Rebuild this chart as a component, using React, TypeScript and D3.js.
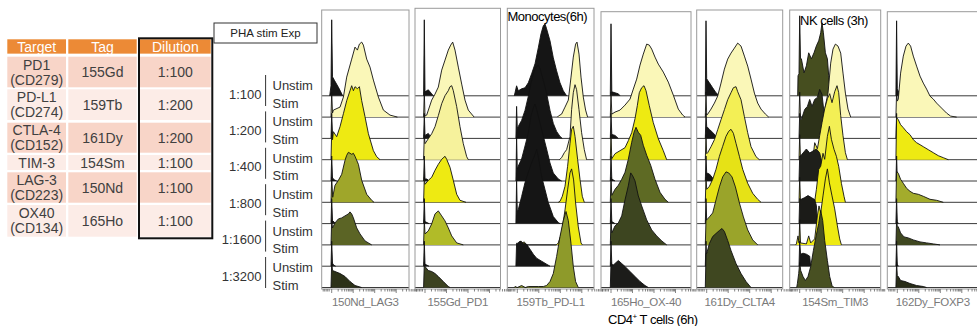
import React from "react";
import * as d3 from "d3";

type Pt = [number, number];

// ---------- table data ----------
const tableHeader = ["Target", "Tag", "Dilution"];
const targets: string[][] = [["PD1", "(CD279)"], ["PD-L1", "(CD274)"], ["CTLA-4", "(CD152)"], ["TIM-3"], ["LAG-3", "(CD223)"], ["OX40", "(CD134)"]];
const tags = ["155Gd", "159Tb", "161Dy", "154Sm", "150Nd", "165Ho"];
const dilutions = ["1:100", "1:200", "1:200", "1:100", "1:100", "1:100"];

// ---------- row labels ----------
const dilutionSeries = ["1:100", "1:200", "1:400", "1:800", "1:1600", "1:3200"];
const conditions = ["Unstim", "Stim"];

// ---------- panels ----------
const channelNames = ["150Nd_LAG3", "155Gd_PD1", "159Tb_PD-L1", "165Ho_OX-40", "161Dy_CLTA4", "154Sm_TIM3", "162Dy_FOXP3"];

const K = "#151515";
const PALE = "#FAF7B8";
const MED = "#F3EF55";
const YEL = "#EEEA12";

const lag3Colors = [K, PALE, K, YEL, K, "#9FA62A", K, "#5B6425", K, "#2C3118"];
const pd1Colors = [K, PALE, K, "#F6F29C", K, YEL, K, "#B1BB28", K, "#3C4220"];
const pdl1Colors = [K, PALE, K, PALE, K, YEL, K, YEL, K, "#8E9A2A"];
const ox40Colors = [K, PALE, K, YEL, K, "#5E6A24", K, "#3D4520", K, "#1C1C1A"];
const ctla4Colors = [K, PALE, K, MED, K, "#E6E216", K, "#9AA42A", K, "#3F4720"];
const tim3Colors = ["#464E1F", PALE, "#2D3219", MED, "#1E1F1A", YEL, "#1B1B18", YEL, K, "#485022"];
const foxp3Colors = [K, PALE, K, YEL, K, "#A3AC2C", K, "#3F4720", K, "#282C17"];

// histograms: [channel, count] pairs, 10 stacked traces per panel (top to bottom)
const lag3Hists: Pt[][] = [
  [[8, 0], [9.3, 10], [10, 76], [10.8, 19], [13, 15], [17, 8], [21, 0]],
  [[9.3, 0], [10, 25], [10.8, 4], [11.7, 7], [18.3, 10], [21.7, 20], [25, 40], [30, 58], [33.3, 70], [35.7, 67], [37.7, 73], [40, 75], [41.7, 72], [45, 58], [48.3, 50], [51.7, 37], [56.7, 20], [61.7, 7], [68.3, 2], [75.7, 0]],
  [[9.3, 0], [10, 25], [10.8, 4], [13, 2], [16, 0]],
  [[9.3, 0], [10, 28], [10.8, 20], [11.7, 28], [15, 23], [18.3, 33], [21.7, 46], [25, 59], [28.3, 69], [30, 74], [31.7, 69], [33.3, 73], [35.7, 71], [37.7, 73], [40, 59], [43.3, 43], [46.7, 26], [51.7, 9], [55, 3], [58.3, 0]],
  [[9.3, 0], [10, 25], [10.8, 3], [13, 1], [15, 0]],
  [[9.3, 0], [10, 25], [11, 5], [13.3, 17], [16.7, 22], [20, 28], [23.3, 42], [25, 47], [26.7, 50], [30, 48], [31.7, 49], [33.3, 46], [36.7, 38], [40, 22], [45, 8], [50, 2], [52.3, 0]],
  [[9.3, 0], [10, 25], [10.8, 3], [13, 1], [15, 0]],
  [[9.3, 0], [10, 25], [10.8, 17], [13.3, 22], [16.7, 26], [20, 27], [23.3, 29], [26.7, 31], [28.3, 33], [30, 31], [31.7, 27], [35, 17], [38.3, 11], [43.3, 4], [48.3, 1], [50, 0]],
  [[9.3, 0], [10, 25], [10.8, 3], [12, 1], [14, 0]],
  [[9.3, 0], [10, 25], [10.8, 17], [13.3, 16], [18.3, 14], [23.3, 11], [28.3, 6], [33.3, 2], [40, 0]],
];

const pd1Hists: Pt[][] = [
  [[8.6, 0], [9.3, 76], [10, 4], [13.3, 6], [16.7, 2], [18.3, 0]],
  [[8.6, 0], [9.3, 25], [10, 1], [11.7, 2], [16.7, 17], [20, 23], [23.3, 30], [26.7, 47], [30, 57], [33.3, 67], [35.7, 72], [37.7, 75], [40, 67], [43.3, 50], [46.7, 33], [50, 17], [53.3, 7], [58.3, 1], [59, 0]],
  [[8.6, 0], [9.3, 25], [10, 3], [13.3, 5], [16.7, 0]],
  [[8.6, 0], [9.3, 25], [10, 16], [13.3, 21], [16.7, 26], [20, 33], [23.3, 44], [26.7, 56], [30, 64], [33.3, 69], [35, 73], [36.7, 74], [38.3, 69], [41.7, 53], [45, 33], [48.3, 16], [51.7, 3], [53.3, 0]],
  [[8.6, 0], [9.3, 25], [10, 2], [12, 2], [14, 0]],
  [[8.6, 0], [9.3, 25], [10, 18], [13.3, 22], [16.7, 25], [20, 32], [23.3, 38], [26.7, 43], [30, 46], [31.7, 43], [35, 35], [38.3, 22], [41.7, 8], [45, 2], [51, 0]],
  [[8.6, 0], [9.3, 25], [10, 2], [12, 1], [14, 0]],
  [[8.6, 0], [9.3, 25], [10, 11], [13.3, 14], [16.7, 21], [20, 31], [23.3, 34], [26.7, 29], [30, 24], [33.3, 17], [36.7, 9], [41.7, 2], [48.3, 0]],
  [[8.6, 0], [9.3, 25], [10, 2], [12, 1], [14, 0]],
  [[8.6, 0], [9.3, 25], [10, 21], [13.3, 17], [16.7, 16], [20, 14], [23.3, 11], [28.3, 6], [33.3, 1], [35, 0]],
];

const pdl1Hists: Pt[][] = [
  [[7, 0], [7.7, 3], [9.3, 10], [11, 5], [14.3, 7], [17.7, 8], [21, 13], [24.3, 22], [27.7, 32], [31, 48], [33.7, 62], [36, 70], [37.7, 72], [39.3, 67], [42.7, 55], [46, 38], [49.3, 25], [52.7, 13], [56, 5], [59.3, 0]],
  [[50, 0], [51, 1], [54.3, 3], [57.7, 10], [61, 17], [63.7, 40], [66, 60], [68.3, 73], [69.7, 75], [71.7, 63], [73.7, 40], [76, 20], [78.3, 7], [80.3, 0]],
  [[8.6, 0], [9.3, 32], [10, 10], [11, 12], [14.3, 18], [17.7, 28], [21, 42], [24.3, 58], [27, 68], [29.3, 72], [31, 73], [32.7, 70], [36, 58], [39.3, 45], [42.7, 28], [46, 15], [49.3, 7], [52.7, 2], [55, 0]],
  [[52, 0], [54.3, 2], [57, 7], [59.3, 10], [62.7, 23], [64.3, 50], [66, 67], [67.7, 75], [69.3, 70], [71.7, 50], [74.3, 27], [77, 10], [79.3, 0]],
  [[8.6, 0], [9.3, 44], [10, 12], [11, 15], [14.3, 22], [17.7, 35], [21, 48], [23.7, 65], [26, 73], [27.7, 77], [29.3, 72], [32.7, 58], [36, 45], [39.3, 32], [42.7, 18], [46, 8], [51, 2], [54.3, 0]],
  [[51, 0], [52.7, 1], [55, 6], [57.7, 16], [60.3, 36], [62.7, 59], [64.3, 73], [66, 76], [67.7, 66], [70.3, 43], [72.7, 23], [75, 6], [77, 0]],
  [[8.6, 0], [9.3, 44], [10, 12], [11, 14], [14.3, 27], [17.7, 41], [21, 51], [24.3, 61], [27, 67], [29.3, 74], [31, 67], [34.3, 47], [37.7, 34], [41, 21], [46, 7], [51, 1], [52.7, 0]],
  [[12, 0], [13.5, 4], [15, 2], [17, 3], [19, 0], [49, 0], [51, 2], [54.3, 12], [57.7, 35], [60.3, 55], [62.7, 72], [64.3, 76], [66.3, 65], [68.3, 42], [71, 18], [73.7, 2], [75, 0]],
  [[8.6, 0], [9.3, 23], [10.3, 23], [12.7, 25], [16, 23], [19.3, 22], [22.7, 17], [26, 12], [29.3, 8], [34.3, 5], [39.3, 2], [42.7, 0]],
  [[7, 0], [7.7, 1], [10, 0], [14.3, 2], [18, 0], [21, 1], [31, 1], [36, 1], [39.3, 2], [42.7, 6], [46, 14], [49.3, 31], [52.7, 51], [56, 67], [58.7, 76], [61, 67], [63.7, 44], [66, 21], [68.3, 6], [71, 0]],
];

const ox40Hists: Pt[][] = [
  [[9.3, 0], [10, 72], [10.8, 4], [14, 3], [17.3, 2], [19, 0]],
  [[9.3, 0], [10, 25], [10.8, 3], [14, 5], [19, 7], [24, 12], [29, 18], [32.3, 28], [35.7, 38], [39, 52], [42.3, 63], [45.7, 73], [48.3, 72], [50.7, 68], [54, 60], [57.3, 53], [62.3, 45], [67.3, 35], [72.3, 22], [77.3, 8], [81.7, 2], [84, 0]],
  [[9.3, 0], [10, 25], [10.8, 4], [14, 3], [17.3, 0]],
  [[9.3, 0], [10, 25], [10.8, 1], [14, 6], [19, 9], [24, 12], [27.3, 19], [30.7, 27], [34, 41], [36.3, 54], [38.3, 67], [40.7, 72], [43, 74], [45, 69], [48.3, 54], [52.3, 37], [57.3, 21], [62.3, 9], [65.7, 0]],
  [[9.3, 0], [10, 25], [10.8, 2], [14, 0]],
  [[9.3, 0], [10, 25], [10.8, 7], [14, 13], [17.3, 17], [20.7, 23], [24, 30], [27.3, 43], [30.7, 60], [33, 70], [35, 75], [37.3, 70], [39.7, 67], [42.3, 57], [45.7, 47], [49.7, 37], [54, 23], [59, 10], [64, 3], [67.3, 0]],
  [[9.3, 0], [10, 25], [10.8, 2], [14, 0]],
  [[9.3, 0], [10, 25], [10.8, 12], [14, 19], [17.3, 22], [20.7, 29], [24, 45], [27.3, 59], [29.7, 72], [31.7, 69], [34, 64], [37.3, 49], [40.7, 39], [45.7, 25], [50.7, 15], [55.7, 9], [60.7, 4], [65.7, 0]],
  [[9.3, 0], [10, 25], [10.8, 2], [14, 0]],
  [[9.3, 0], [10, 25], [10.8, 21], [14, 24], [17.3, 27], [20.7, 24], [24, 21], [29, 16], [34, 11], [39, 6], [44, 2], [47.3, 0]],
];

const ctla4Hists: Pt[][] = [
  [[8.6, 0], [9.3, 75], [10, 17], [12.7, 13], [16, 8], [19.3, 3], [22.7, 0]],
  [[8.6, 0], [9.3, 25], [10, 2], [11, 3], [14.3, 8], [17.7, 14], [21, 21], [24.3, 34], [27.7, 48], [31, 58], [34.3, 64], [37.7, 69], [41, 74], [44.3, 71], [47.7, 61], [51, 51], [54.3, 38], [57.7, 24], [61, 14], [64.3, 8], [68.7, 3], [72, 0]],
  [[8.6, 0], [9.3, 25], [10, 12], [12.7, 9], [16, 6], [19.3, 2], [21, 0]],
  [[8.6, 0], [9.3, 25], [10, 6], [11, 7], [14.3, 13], [17.7, 20], [21, 30], [24.3, 40], [27.7, 50], [31, 60], [34.3, 67], [36.7, 72], [39.3, 73], [41, 68], [44.3, 60], [47.7, 43], [51, 27], [54.3, 13], [59.3, 3], [62.7, 0]],
  [[8.6, 0], [9.3, 25], [10, 8], [12.7, 7], [16, 3], [17.7, 0]],
  [[8.6, 0], [9.3, 25], [10, 13], [12.7, 16], [16, 23], [19.3, 33], [22.7, 46], [26, 56], [29.3, 66], [32, 71], [34.3, 73], [36.7, 69], [39.3, 59], [42.7, 46], [46, 33], [51, 19], [56, 9], [61, 3], [64.3, 0]],
  [[8.6, 0], [9.3, 25], [10, 3], [12, 0]],
  [[8.6, 0], [9.3, 25], [10, 25], [12.7, 28], [16, 32], [19.3, 45], [22.7, 58], [26, 68], [29.3, 73], [32, 72], [35.3, 68], [38.7, 58], [42.7, 42], [46.7, 28], [51, 15], [56, 5], [61, 0]],
  [[8.6, 0], [9.3, 25], [10, 3], [12, 0]],
  [[8.6, 0], [9.3, 34], [10, 34], [12.7, 44], [16, 51], [19.3, 54], [22.7, 57], [25.3, 59], [27.7, 56], [31, 47], [34.3, 37], [39.3, 24], [44.3, 14], [49.3, 6], [54.3, 0]],
];

const tim3Hists: Pt[][] = [
  [[8, 0], [8.3, 20], [9.3, 22], [10, 80], [10.8, 37], [11.7, 37], [14.3, 23], [16.7, 30], [19, 43], [21.7, 37], [24.3, 43], [26.7, 50], [29, 55], [31, 63], [32.3, 73], [33.7, 63], [35.7, 43], [37.7, 37], [39, 20], [40.3, 7], [41.7, 0]],
  [[9.3, 0], [10, 25], [10.8, 0], [33, 0], [35, 8], [38.3, 24], [41, 54], [43.3, 68], [45.7, 73], [48.3, 71], [51, 64], [53.3, 44], [55.7, 24], [58.3, 8], [61, 0]],
  [[9.3, 0], [10, 25], [10.8, 19], [11.7, 19], [15, 29], [17.7, 32], [20, 39], [22.3, 32], [25, 39], [27.7, 41], [30, 49], [32.3, 44], [34.3, 26], [35.7, 2], [36.7, 0]],
  [[9.3, 0], [10, 25], [10.8, 0], [22.5, 0], [23.3, 2], [25, 17], [27.7, 11], [30, 24], [32.3, 37], [35, 51], [37.7, 61], [40, 66], [42.3, 57], [45, 68], [47.3, 74], [49, 67], [51, 44], [53.3, 24], [55.7, 7], [57.7, 0]],
  [[9.3, 0], [10, 25], [10.9, 25], [13.3, 28], [16.7, 32], [20, 28], [23.3, 30], [26.7, 32], [30, 28], [32.3, 18], [33.7, 0]],
  [[9.3, 0], [10, 25], [10.8, 0], [24, 0], [25, 1], [26.7, 13], [29, 33], [31, 36], [33.3, 49], [35, 43], [37.7, 66], [39.7, 76], [41.7, 63], [44.3, 53], [46.7, 46], [49, 36], [51.7, 19], [54.3, 6], [55.7, 0]],
  [[9.3, 0], [10, 25], [10.9, 24], [15, 26], [18.3, 28], [21.7, 26], [25, 24], [26.7, 18], [27.7, 0]],
  [[6, 0], [6.7, 1], [8.3, 9], [9.3, 2], [10, 25], [10.8, 2], [16.7, 1], [19, 9], [21, 2], [25, 6], [27.7, 29], [29.3, 39], [31, 32], [33.3, 49], [35.7, 66], [37.7, 76], [39.7, 62], [42.3, 49], [45, 36], [47.7, 19], [50, 6], [51.7, 0]],
  [[9.3, 0], [10, 25], [10.9, 12], [13.3, 13], [16.7, 12], [20, 10], [21, 0]],
  [[7, 0], [7.7, 4], [9, 14], [10, 25], [11, 17], [13.3, 11], [15.7, 7], [18.3, 11], [21, 21], [23.7, 37], [26.3, 51], [29, 64], [31, 77], [33, 67], [35, 47], [37.7, 27], [40, 11], [42.3, 2], [44.3, 0]],
];

const foxp3Hists: Pt[][] = [
  [[8.6, 0], [9.3, 75], [10, 7], [12, 2], [13.3, 0]],
  [[8.6, 0], [9.3, 25], [10, 16], [11, 18], [13.3, 44], [16, 61], [18.7, 71], [21, 74], [23.3, 71], [26, 61], [29.3, 51], [32.7, 41], [36, 34], [39.3, 28], [42.7, 21], [46, 18], [49.3, 14], [54.3, 9], [59.3, 4], [63.3, 1], [69.3, 0]],
  [[8.6, 0], [9.3, 25], [10, 4], [12, 0]],
  [[8.6, 0], [9.3, 42], [11, 40], [13.3, 35], [16, 32], [19.3, 28], [22.7, 25], [26, 20], [29.3, 17], [32.7, 15], [36, 13], [41, 10], [46, 7], [51, 4], [56, 2], [61, 0]],
  [[8.6, 0], [9.3, 25], [10, 2], [11, 0]],
  [[8.6, 0], [9.3, 31], [11, 29], [13.3, 23], [16, 19], [19.3, 14], [22.7, 11], [26, 9], [31, 8], [36, 6], [42.7, 3], [49.3, 2], [56, 0]],
  [[8.6, 0], [9.3, 25], [10, 2], [11, 0]],
  [[8.6, 0], [9.3, 25], [10, 19], [11, 18], [13.3, 12], [16.7, 8], [21, 7], [26, 5], [32.7, 3], [39.3, 2], [46, 1], [52.7, 0]],
  [[8.6, 0], [9.3, 25], [10, 2], [11, 0]],
  [[8.6, 0], [9.3, 25], [10, 12], [11, 11], [13.3, 7], [17.7, 6], [22.7, 4], [29.3, 2], [36, 1], [39.3, 0]],
];

const panelHists = [lag3Hists, pd1Hists, pdl1Hists, ox40Hists, ctla4Hists, tim3Hists, foxp3Hists];
const panelColors = [lag3Colors, pd1Colors, pdl1Colors, ox40Colors, ctla4Colors, tim3Colors, foxp3Colors];

// ---------- layout ----------
const W = 977;
const H = 326;
const FONT = '"Liberation Sans", Arial, Helvetica, sans-serif';
const panelLeft = [321.7, 415, 507.3, 601, 696.7, 789.7, 887.3];
const panelRight = [409, 500.5, 594, 691, 782.7, 880.7, 990];
const panelTop = [10, 8.3, 8.3, 11.7, 10, 10, 11.7];
const panelBottom = 289;
const base0 = 95.8;
const baseStep = 21.3;

const decadeStarts = [10, 31.5, 53, 74.5];
const decadeWidth = 21.5;

export default function App() {
  const yScale = d3.scaleLinear().domain([0, 80]).range([0, 80]);

  const colX = [7.3, 68.3, 140];
  const colW = [58.7, 68.4, 70.7];
  const rowTops = [56.7, 89.3, 122.7, 155, 172.3, 205];
  const rowBots = [87.3, 120, 152.7, 170, 202.7, 236.7];

  const tickVals: { v: number; major: boolean }[] = [];
  [1.5, 3, 4.5, 6, 7.5].forEach((v) => tickVals.push({ v, major: false }));
  decadeStarts.forEach((d) => {
    tickVals.push({ v: d, major: true });
    for (let k = 2; k <= 9; k++) tickVals.push({ v: d + decadeWidth * Math.log10(k), major: false });
  });

  return (
    <svg width={W} height={H} style={{ position: "absolute", left: 0, top: 0, background: "#fff" }} fontFamily={FONT}>
      <rect x={0} y={0} width={W} height={H} fill="#fff" />
      {/* ---- table ---- */}
      {tableHeader.map((t, c) => (
        <g key={"h" + c}>
          <rect x={colX[c]} y={39.3} width={colW[c]} height={14.5} fill="#EC8A36" />
          <text x={colX[c] + colW[c] / 2} y={51.5} textAnchor="middle" fontSize={14} fill="#fff">{t}</text>
        </g>
      ))}
      <rect x={0} y={53.8} width={212} height={2.9} fill="#fff" />
      {targets.map((tg, r) => {
        const fill = r % 2 === 0 ? "#F8D5C8" : "#FCECE7";
        const cy = (rowTops[r] + rowBots[r]) / 2;
        return (
          <g key={"r" + r}>
            {[0, 1, 2].map((c) => (
              <rect key={c} x={colX[c]} y={rowTops[r]} width={colW[c]} height={rowBots[r] - rowTops[r]} fill={fill} />
            ))}
            {tg.length === 2 ? (
              <>
                <text x={colX[0] + colW[0] / 2} y={cy - 2.5} textAnchor="middle" fontSize={14} fill="#404040">{tg[0]}</text>
                <text x={colX[0] + colW[0] / 2} y={cy + 12.5} textAnchor="middle" fontSize={14} fill="#404040">{tg[1]}</text>
              </>
            ) : (
              <text x={colX[0] + colW[0] / 2} y={cy + 5} textAnchor="middle" fontSize={14} fill="#404040">{tg[0]}</text>
            )}
            <text x={colX[1] + colW[1] / 2} y={cy + 5} textAnchor="middle" fontSize={14} fill="#404040">{tags[r]}</text>
            <text x={colX[2] + colW[2] / 2} y={cy + 5} textAnchor="middle" fontSize={14} fill="#404040">{dilutions[r]}</text>
          </g>
        );
      })}
      <rect x={139} y={38.3} width={73.3} height={200} fill="none" stroke="#111" strokeWidth={2} />

      {/* ---- PHA box and row labels ---- */}
      <rect x={214} y={23} width={103} height={20} fill="#fff" stroke="#333" strokeWidth={1} />
      <text x={265.5} y={37.3} textAnchor="middle" fontSize={11.5} fill="#222">PHA stim Exp</text>
      {dilutionSeries.map((d, i) => {
        const ub = 90 + i * 36.4;
        return (
          <g key={"d" + i}>
            <text x={261.5} y={ub + 8.5} textAnchor="end" fontSize={13} fill="#333">{d}</text>
            <line x1={265.6} x2={265.6} y1={ub - 15} y2={ub + 16} stroke="#333" strokeWidth={1} />
            <text x={272.5} y={ub} fontSize={13} fill="#333">{conditions[0]}</text>
            <text x={272.5} y={ub + 17.5} fontSize={13} fill="#333">{conditions[1]}</text>
          </g>
        );
      })}

      {/* ---- histogram panels ---- */}
      <defs>
        {panelLeft.map((L, p) => (
          <clipPath id={"clip" + p} key={p}>
            <rect x={L} y={panelTop[p]} width={panelRight[p] - L} height={panelBottom - panelTop[p]} />
          </clipPath>
        ))}
      </defs>
      {panelHists.map((hists, p) => {
        const L = panelLeft[p];
        const R = panelRight[p];
        const x = d3.scaleLinear().domain([0, 90]).range([L, L + 90]);
        const cx = (L + Math.min(R, L + 91)) / 2;
        return (
          <g key={"p" + p}>
            <g clipPath={`url(#clip${p})`}>
              {hists.map((pts, i) => {
                const b = base0 + i * baseStep;
                const area = d3.area<Pt>().x((d) => x(d[0])).y0(b).y1((d) => b - yScale(d[1]));
                const line = d3.line<Pt>().x((d) => x(d[0])).y((d) => b - yScale(d[1]));
                return (
                  <g key={i}>
                    <line x1={L} x2={R} y1={b} y2={b} stroke="#3a3a3a" strokeWidth={1} />
                    <path d={area(pts) || ""} fill={panelColors[p][i]} />
                    <path d={line(pts) || ""} fill="none" stroke="#111" strokeWidth={0.9} strokeLinejoin="round" />
                  </g>
                );
              })}
            </g>
            <rect x={L} y={panelTop[p]} width={R - L} height={panelBottom - panelTop[p]} fill="none" stroke="#9a9a9a" strokeWidth={1} />
            {tickVals.map((t, k) => (
              <line key={k} x1={x(t.v)} x2={x(t.v)} y1={panelBottom} y2={panelBottom + (t.major ? 4 : 2.5)} stroke="#666" strokeWidth={0.8} />
            ))}
            <text x={cx} y={305.5} textAnchor="middle" fontSize={11.5} letterSpacing={-0.3} fill="#7a7a7a">{channelNames[p]}</text>
          </g>
        );
      })}

      {/* ---- annotations ---- */}
      <text x={507.5} y={20.5} fontSize={13} letterSpacing={-0.5} fill="#000">Monocytes(6h)</text>
      <text x={800} y={25} fontSize={13} letterSpacing={-0.5} fill="#000">NK cells (3h)</text>
      <text x={608} y={324} fontSize={13} letterSpacing={-0.5} fill="#000">
        CD4<tspan fontSize={8} dy={-5}>+</tspan><tspan dy={5}> T cells (6h)</tspan>
      </text>
    </svg>
  );
}
